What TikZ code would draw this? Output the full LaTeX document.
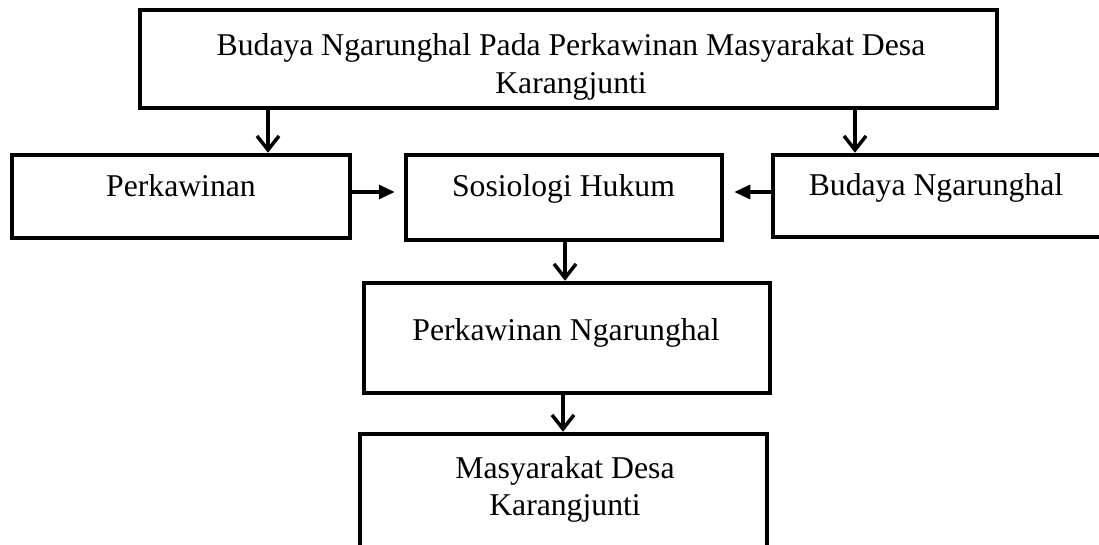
\documentclass[tikz,border=0pt]{standalone}
\usepackage{fontspec}
\setmainfont{Liberation Serif}
\usetikzlibrary{arrows.meta}
\begin{document}
\begin{tikzpicture}[x=1pt,y=-1pt,
  box/.style={draw=black, line width=4.5pt, fill=white, inner sep=0pt, rectangle},
  lbl/.style={inner sep=0pt, font=\fontsize{31.7}{37.5}\selectfont, align=center},
  vee/.style={-{Straight Barb[length=14pt,width=22pt,line width=3.5pt]}, line width=3.5pt},
  tri/.style={-{Triangle[length=16pt,width=14pt]}, line width=3.2pt}]
\useasboundingbox (0,0) rectangle (1099,545);
% boxes
\node[box, minimum width=857pt, minimum height=98pt] (top) at (568.5,59) {};
\node[box, minimum width=338pt, minimum height=83pt] (perk) at (181,196.5) {};
\node[box, minimum width=316pt, minimum height=85pt] (sos) at (564,197.5) {};
\node[box, minimum width=357pt, minimum height=82pt] (bud) at (951.5,196) {};
\node[box, minimum width=406pt, minimum height=110pt] (png) at (567,338) {};
\node[box, minimum width=407pt, minimum height=166pt] (mas) at (563.5,517) {};
% texts
\node[lbl, anchor=north] (ttop) at (571,33.8) {Budaya Ngarunghal Pada Perkawinan Masyarakat Desa\\Karangjunti};
\node[lbl, anchor=base] (tperk) at (181,197) {Perkawinan};
\node[lbl, anchor=base] (tsos) at (563.5,197) {Sosiologi Hukum};
\node[lbl, anchor=base] (tbud) at (936,196) {Budaya Ngarunghal};
\node[lbl, anchor=base] (tpng) at (566,340) {Perkawinan Ngarunghal};
\node[lbl, anchor=north] (tmas) at (565,456.3) {Masyarakat Desa\\Karangjunti};
% connector guides
\coordinate (c1) at (268,0);
\coordinate (c2) at (855,0);
\coordinate (c3) at (0,192);
\coordinate (c4) at (565,0);
\coordinate (c5) at (563,0);
% connectors
\draw[vee] (top.south -| c1) -- (perk.north -| c1);
\draw[vee] (top.south -| c2) -- (bud.north -| c2);
\draw[tri, shorten >=9pt] (perk.east |- c3) -- (sos.west |- c3);
\draw[tri, shorten >=10pt] (bud.west |- c3) -- (sos.east |- c3);
\draw[vee] (sos.south -| c4) -- (png.north -| c4);
\draw[vee] (png.south -| c5) -- (mas.north -| c5);
\end{tikzpicture}
\end{document}
